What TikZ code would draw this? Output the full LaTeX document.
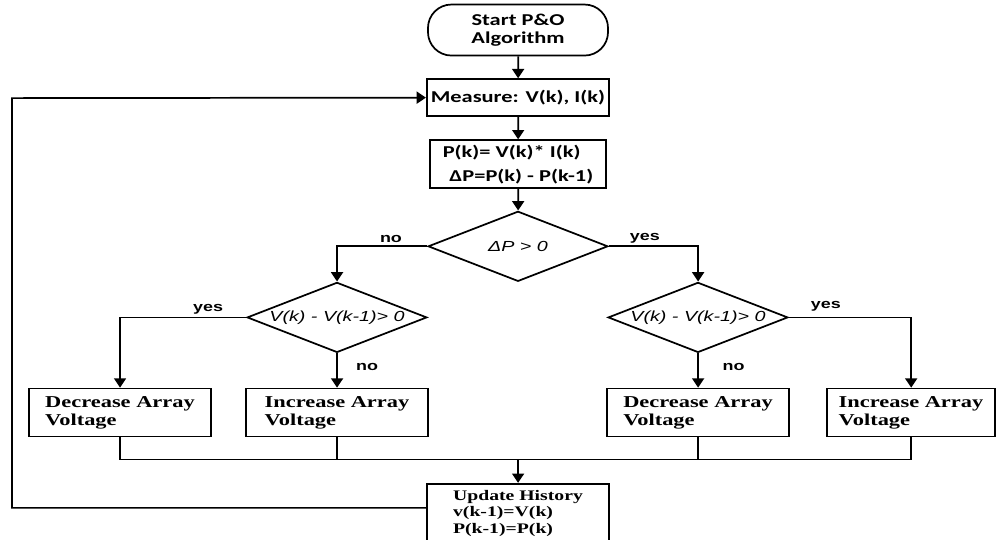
\documentclass[tikz,border=0pt]{standalone}
\usepackage{fontspec}
\usetikzlibrary{shapes.geometric,arrows.meta}
\newfontfamily\boxsans{Carlito}
\newfontfamily\labsans{Liberation Sans}
\newfontfamily\boxserif{Liberation Serif}

\begin{document}
\begin{tikzpicture}[x=0.0196cm, y=-0.0265cm, xscale=1.35, line width=1.3pt,
every node/.style={transform shape},
arr/.style={-{Triangle[length=7pt,width=9pt]}},
startbox/.style={draw, rectangle, rounded corners=0.62cm, minimum width=3.53cm, minimum height=1.35cm, inner sep=2pt, align=center, font=\boxsans\bfseries\fontsize{12.5}{13.5}\selectfont},
sansbox/.style={draw, rectangle, minimum width=3.567cm, inner sep=2pt, font=\boxsans\bfseries\fontsize{12.5}{18}\selectfont},
decision/.style={draw, diamond, minimum width=3.53cm, minimum height=1.855cm, inner sep=0pt, font=\labsans\itshape\fontsize{11}{13}\selectfont},
arraybox/.style={draw, rectangle, minimum width=3.567cm, minimum height=1.272cm, inner sep=2pt, align=left, font=\boxserif\bfseries\fontsize{12.5}{13.5}\selectfont},
lab/.style={inner sep=2pt, font=\labsans\bfseries\fontsize{10}{12}\selectfont},
]
\clip (0,0) rectangle (997,539);

% top of the chart
\node[startbox] (start) at (518,30) {Start P\&O\\Algorithm};
\node[sansbox, minimum height=0.98cm] (meas) at (518,97.5) {Measure: V(k), I(k)};
\node[sansbox, minimum width=3.45cm, minimum height=1.272cm, align=left] (pow) at (518,164) {P(k)= V(k)* I(k)\\\hspace{0.3em}ΔP=P(k) - P(k-1)};

% decisions
\node[decision] (dp) at (518,246) {\makebox[0pt]{ΔP > 0}};
\node[decision] (dl) at (337,317) {\makebox[0pt]{V(k) - V(k-1)> 0}};
\node[decision] (dr) at (698,317) {\makebox[0pt]{V(k) - V(k-1)> 0}};

% actions
\node[arraybox] (dec1) at (120,412) {Decrease Array\\Voltage};
\node[arraybox] (inc1) at (337,412) {Increase Array\\Voltage};
\node[arraybox] (dec2) at (698,412) {Decrease Array\\Voltage};
\node[arraybox, minimum width=3.293cm] (inc2) at (911,412) {Increase Array\\Voltage};
\node[arraybox, minimum height=1.56cm, font=\boxserif\bfseries\fontsize{11}{12.5}\selectfont] (upd) at (518,512.5) {Update History\\v(k-1)=V(k)\\P(k-1)=P(k)};

\coordinate (join) at (518,459);
\coordinate (back) at (12,98);

\draw[arr] (start) -- (meas);
\draw[arr] (meas) -- (pow);
\draw[arr] (pow) -- (dp);
\draw[arr] (dp.west) -| node[lab, pos=0.2, above]{no} (dl.north);
\draw[arr] (dp.east) -| node[lab, pos=0.2, above]{yes} (dr.north);
\draw[arr] (dl.west) -| node[lab, pos=0.15, above]{yes} (dec1.north);
\draw[arr] (dl.south) -- node[lab, pos=0.4, right=8pt]{no} (inc1.north);
\draw[arr] (dr.east) -| node[lab, pos=0.15, above=2pt]{yes} (inc2.north);
\draw[arr] (dr.south) -- node[lab, pos=0.4, right=11pt]{no} (dec2.north);

% merge and loop back
\draw (dec1.south) |- (join) -| (inc2.south);
\draw (inc1.south) -- (inc1.south |- join);
\draw (dec2.south) -- (dec2.south |- join);
\draw[arr] (join) -- (upd.north);
\draw[arr] ([yshift=4pt]upd.west) -| (back) -- (meas.west);
\end{tikzpicture}
\end{document}
